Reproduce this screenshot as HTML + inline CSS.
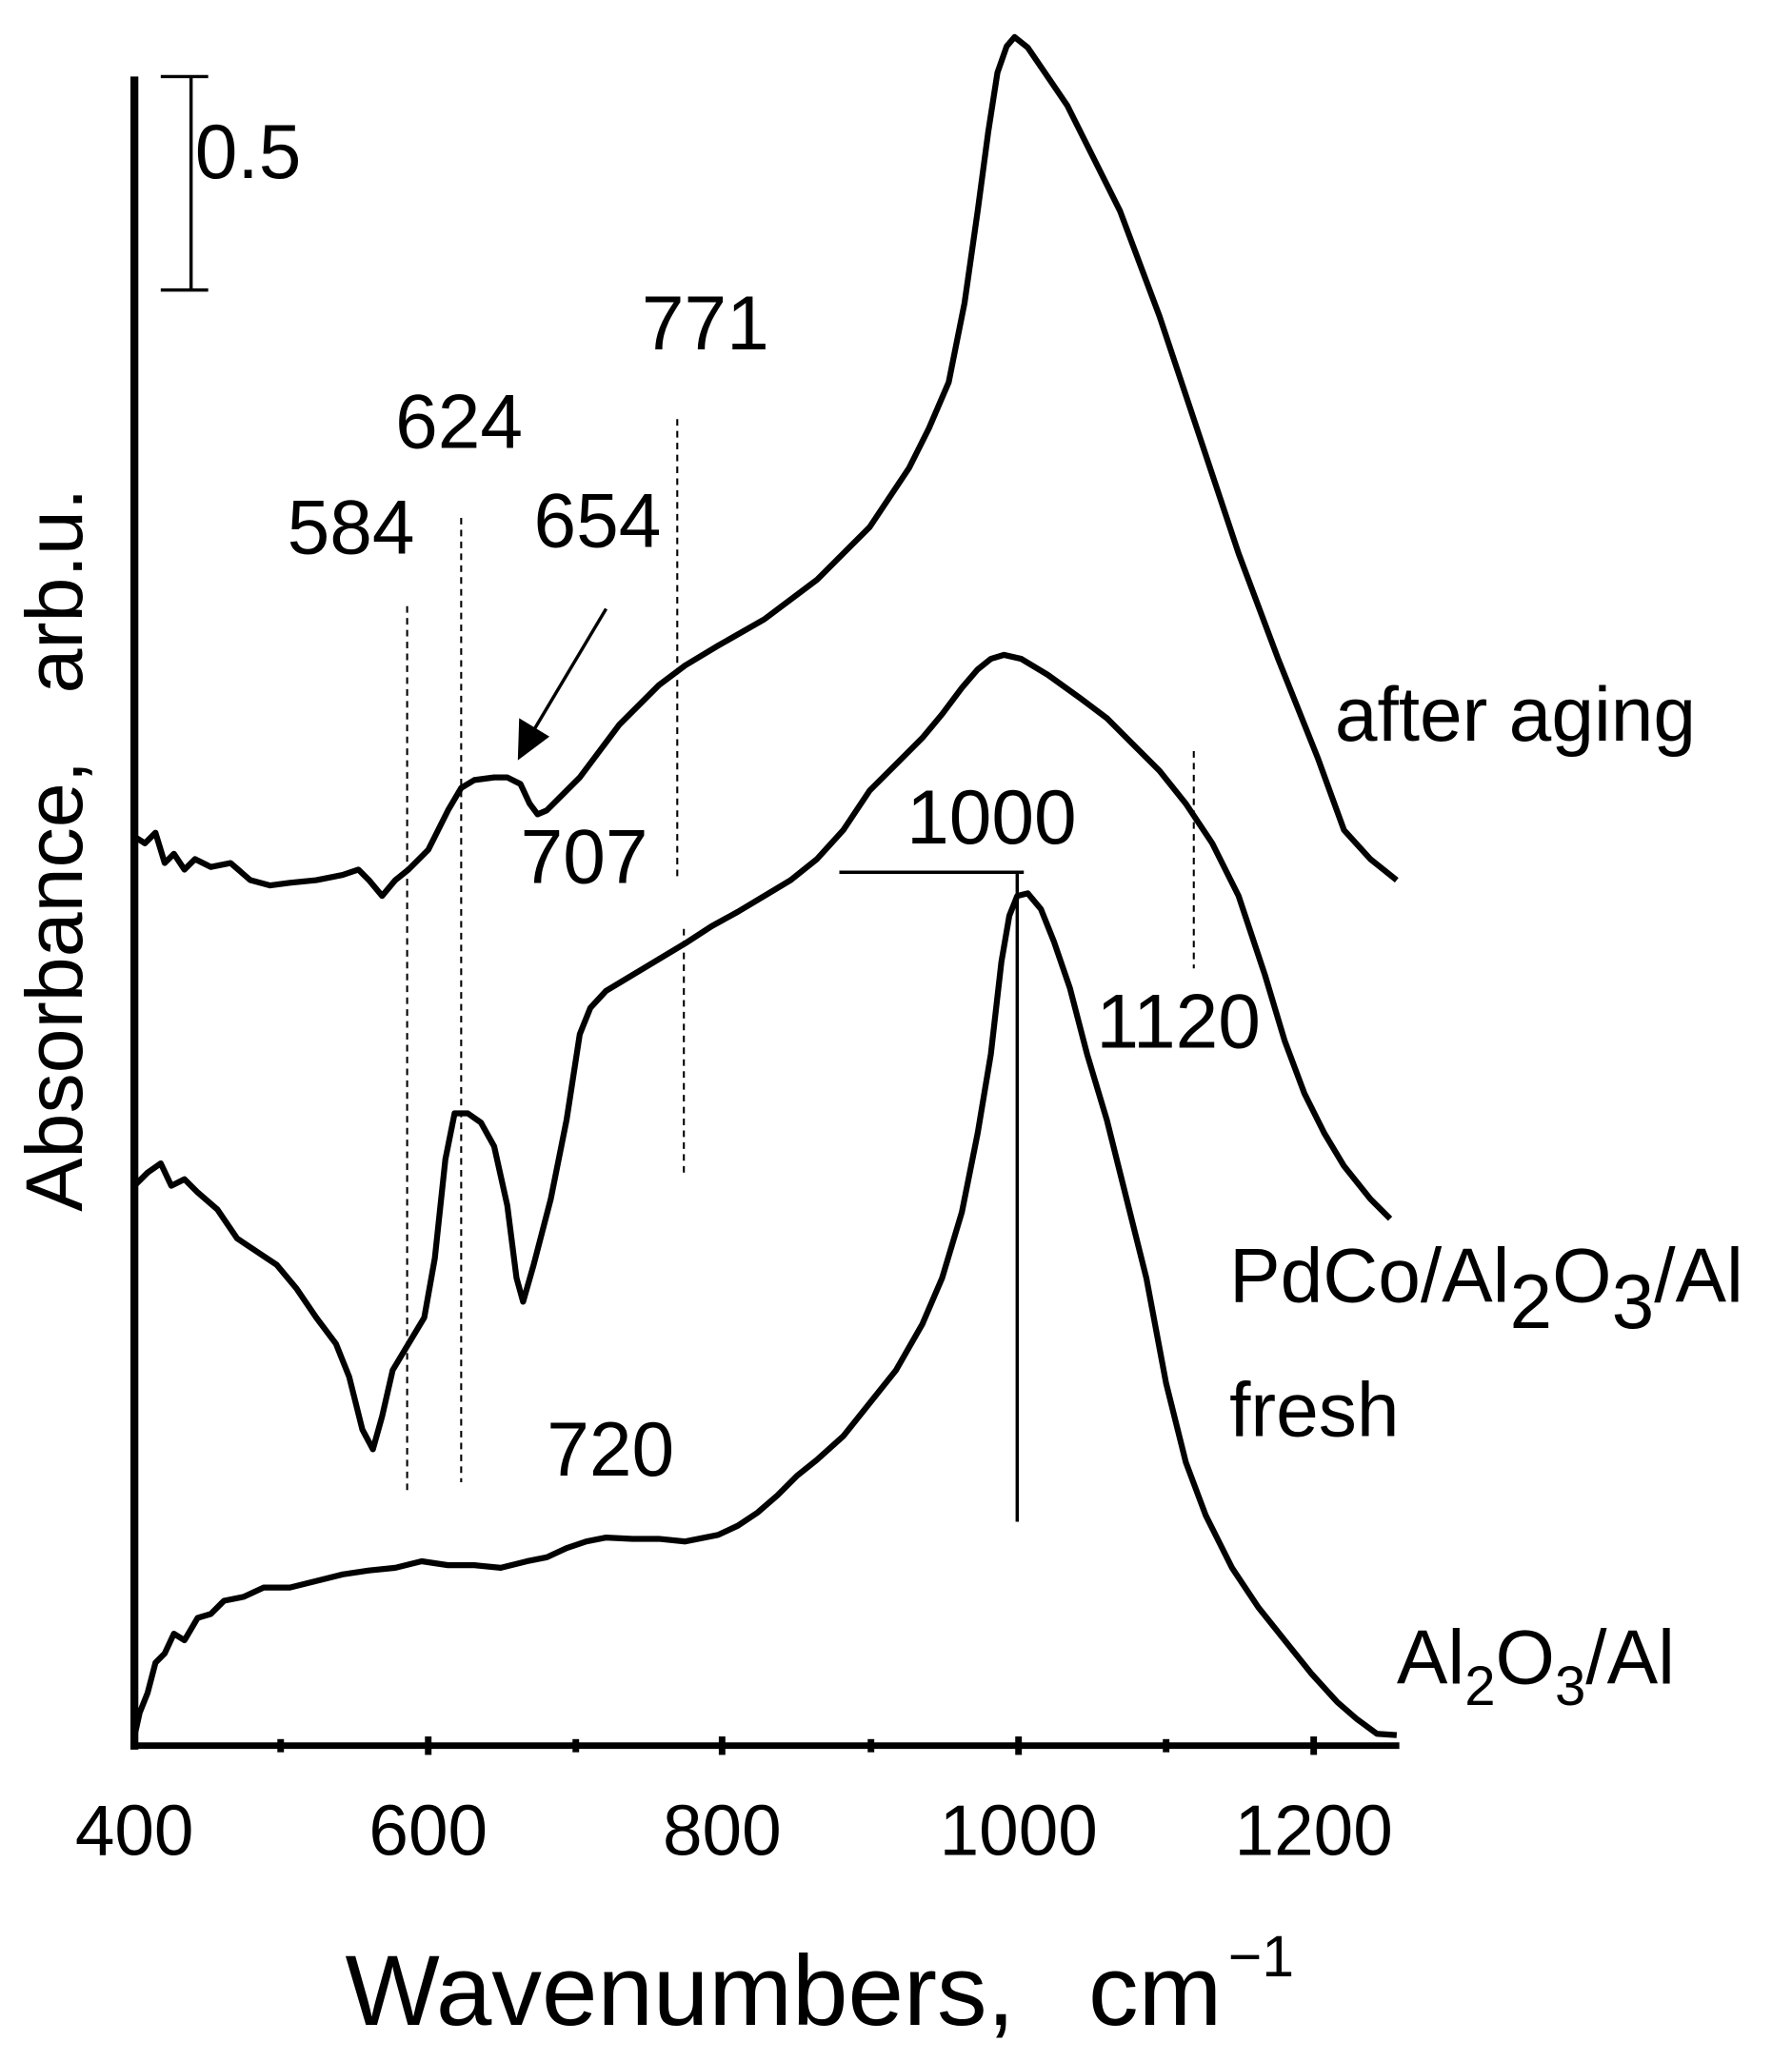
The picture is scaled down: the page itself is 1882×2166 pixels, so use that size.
<!DOCTYPE html>
<html><head><meta charset="utf-8"><style>
html,body{margin:0;padding:0;background:#fff;}
svg{display:block;}
text{font-family:"Liberation Sans",Arial,sans-serif;fill:#000;}
</style></head><body>
<svg width="1882" height="2166" viewBox="0 0 1360 1565" xmlns="http://www.w3.org/2000/svg">
<rect width="1360" height="1565" fill="#fff"/>
<line x1="102" y1="58" x2="102" y2="1328" stroke="#000" stroke-width="6"/>
<line x1="99" y1="1325" x2="1062" y2="1325" stroke="#000" stroke-width="5"/>
<g stroke="#000" stroke-width="5">
<line x1="325" y1="1318" x2="325" y2="1332"/><line x1="548" y1="1318" x2="548" y2="1332"/>
<line x1="773" y1="1318" x2="773" y2="1332"/><line x1="997" y1="1318" x2="997" y2="1332"/>
<line x1="213" y1="1320" x2="213" y2="1330"/><line x1="437" y1="1320" x2="437" y2="1330"/>
<line x1="661" y1="1320" x2="661" y2="1330"/><line x1="885" y1="1320" x2="885" y2="1330"/>
</g>
<g font-size="54" text-anchor="middle">
<text x="102" y="1408">400</text><text x="325" y="1408">600</text><text x="548" y="1408">800</text>
<text x="773" y="1408">1000</text><text x="997" y="1408">1200</text>
</g>
<text x="262" y="1537" font-size="76">Wavenumbers,</text>
<text x="826" y="1537" font-size="76">cm</text>
<text x="932" y="1500" font-size="44">−1</text>
<text transform="translate(62,645) rotate(-90)" font-size="61" text-anchor="middle" xml:space="preserve">Absorbance,   arb.u.</text>
<g stroke="#000" stroke-width="2.5">
<line x1="145" y1="58" x2="145" y2="220"/><line x1="122" y1="58" x2="158" y2="58"/><line x1="122" y1="220" x2="158" y2="220"/>
</g>
<text x="148" y="135" font-size="58">0.5</text>
<g stroke="#000" stroke-width="1.5" stroke-dasharray="5,4">
<line x1="309" y1="460" x2="309" y2="1135"/><line x1="350" y1="393" x2="350" y2="1125"/>
<line x1="514" y1="318" x2="514" y2="665"/><line x1="519" y1="705" x2="519" y2="890"/>
<line x1="906" y1="570" x2="906" y2="735"/>
</g>
<g stroke="#000" stroke-width="2.5">
<line x1="637" y1="662" x2="777" y2="662"/><line x1="772" y1="662" x2="772" y2="1155"/>
<line x1="460" y1="462" x2="404" y2="556"/>
</g>
<polygon points="393,577 394,545 417,559" fill="#000"/>
<g font-size="58">
<text x="487" y="265">771</text><text x="300" y="340">624</text><text x="218" y="420">584</text>
<text x="405" y="415">654</text><text x="395" y="670">707</text><text x="688" y="640">1000</text>
<text x="832" y="795">1120</text><text x="415" y="1120">720</text>
<text x="1013" y="562">after aging</text>
<text x="933" y="988">PdCo/Al<tspan dy="20">2</tspan><tspan dy="-20">O</tspan><tspan dy="20">3</tspan><tspan dy="-20">/Al</tspan></text>
<text x="933" y="1090">fresh</text>
<text x="1060" y="1278">Al<tspan font-size="42" dy="16">2</tspan><tspan dy="-16">O</tspan><tspan font-size="42" dy="16">3</tspan><tspan dy="-16">/Al</tspan></text>
</g>
<g fill="none" stroke="#000" stroke-width="4.5" stroke-linejoin="round">
<polyline points="102,635 110,640 118,632 125,655 132,648 140,660 148,652 160,658 175,655 190,668 205,672 220,670 240,668 260,664 272,660 280,668 290,680 300,668 310,660 325,645 340,615 350,598 360,592 375,590 385,590 395,595 402,610 408,618 415,615 425,605 440,590 455,570 470,550 485,535 500,520 520,505 545,490 580,470 620,440 660,400 690,355 705,325 720,290 732,230 742,160 750,100 757,55 764,35 770,28 780,36 795,58 810,80 825,110 850,160 880,240 910,330 940,420 970,500 1000,575 1020,630 1040,652 1060,668"/>
<polyline points="102,900 112,890 122,883 130,900 140,895 150,905 165,918 180,940 195,950 210,960 225,978 240,1000 255,1020 265,1045 275,1085 283,1100 290,1075 298,1040 310,1020 322,1000 330,955 338,880 345,845 355,845 365,852 375,870 385,915 392,970 397,988 405,960 418,910 430,850 440,785 448,765 460,752 480,740 500,728 520,716 540,703 560,692 580,680 600,668 620,652 640,630 660,600 680,580 700,560 715,542 730,522 742,508 752,500 762,497 775,500 795,512 820,530 840,545 860,565 880,585 900,610 920,640 940,680 960,740 975,790 990,830 1005,860 1020,885 1040,910 1055,925"/>
<polyline points="102,1318 106,1300 112,1285 118,1262 125,1255 132,1240 140,1245 150,1228 160,1225 170,1215 185,1212 200,1205 220,1205 240,1200 260,1195 280,1192 300,1190 320,1185 340,1188 360,1188 380,1190 400,1185 415,1182 430,1175 445,1170 460,1167 480,1168 500,1168 520,1170 545,1165 560,1158 575,1148 590,1135 605,1120 620,1108 640,1090 660,1065 680,1040 700,1005 715,970 730,920 742,860 752,800 760,730 766,695 772,680 780,678 790,690 800,715 812,750 825,800 840,850 855,910 870,970 885,1050 900,1110 915,1150 935,1190 955,1220 975,1245 995,1270 1015,1292 1030,1305 1045,1316 1060,1317"/>
</g>
</svg>
</body></html>
